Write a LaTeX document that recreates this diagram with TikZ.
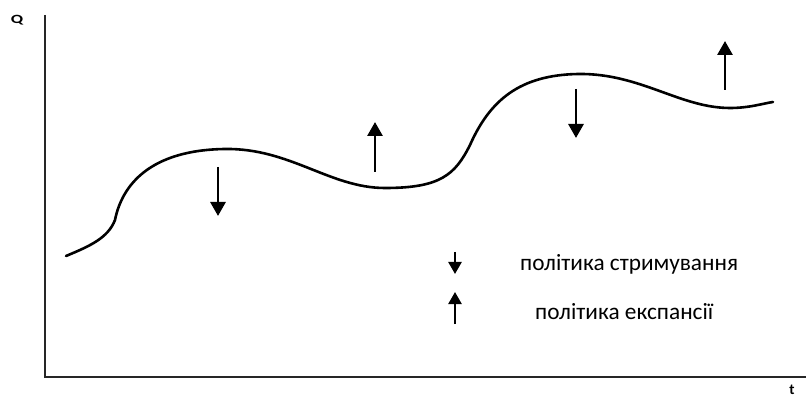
\documentclass[tikz,border=0pt]{standalone}
\usepackage{fontspec}
\setmainfont{Carlito}
\usetikzlibrary{arrows.meta}
\begin{document}
\begin{tikzpicture}[x=1pt,y=-1pt,
  axis/.style={line width=2pt,black!85},
  curve/.style={line width=2.6pt,line cap=round},
  sig/.style={line width=2.8pt,-{Triangle[width=15pt,length=14pt]}},
  legsig/.style={line width=2.4pt,-{Triangle[width=13pt,length=12pt]}},
  lbl/.style={font=\fontsize{23.3}{26}\selectfont,anchor=west,inner sep=0pt}]
\useasboundingbox (0,0) rectangle (806,398);
% axes
\coordinate (o) at (45,377);
\coordinate (ytop) at (45,15);
\coordinate (xend) at (806,377);
\draw[axis] (ytop) -- (o) -- (xend);
\node[yscale=0.7,font=\fontsize{18}{19}\selectfont\bfseries] (q) at (17,20) {Q};
\node[font=\fontsize{15}{16}\selectfont\bfseries] (t) at (792,390) {t};
% curve
\draw[curve] (66,256) .. controls (90,246) and (108,238) .. (115,220)
  .. controls (122,185) and (150,150) .. (225,149)
  .. controls (290,148) and (330,188) .. (385,188)
  .. controls (440,188) and (455,175) .. (470,145)
  .. controls (490,100) and (520,75) .. (578,74)
  .. controls (640,73) and (680,108) .. (730,108)
  .. controls (750,108) and (765,103) .. (773,102);
% arrows on curve
\coordinate (a1s) at (218,167); \coordinate (a1e) at (218,216);
\coordinate (a2s) at (375,172); \coordinate (a2e) at (375,122);
\coordinate (a3s) at (576,89);  \coordinate (a3e) at (576,138);
\coordinate (a4s) at (725,90);  \coordinate (a4e) at (725,41);
\draw[sig] (a1s) -- (a1e);
\draw[sig] (a2s) -- (a2e);
\draw[sig] (a3s) -- (a3e);
\draw[sig] (a4s) -- (a4e);
% legend
\coordinate (l1s) at (455,252); \coordinate (l1e) at (455,274);
\coordinate (l2s) at (455,324); \coordinate (l2e) at (455,292);
\draw[legsig] (l1s) -- (l1e);
\draw[legsig] (l2s) -- (l2e);
\node[lbl] (txt1) at (520,264) {політика стримування};
\node[lbl] (txt2) at (535,312) {політика експансії};
\end{tikzpicture}
\end{document}
